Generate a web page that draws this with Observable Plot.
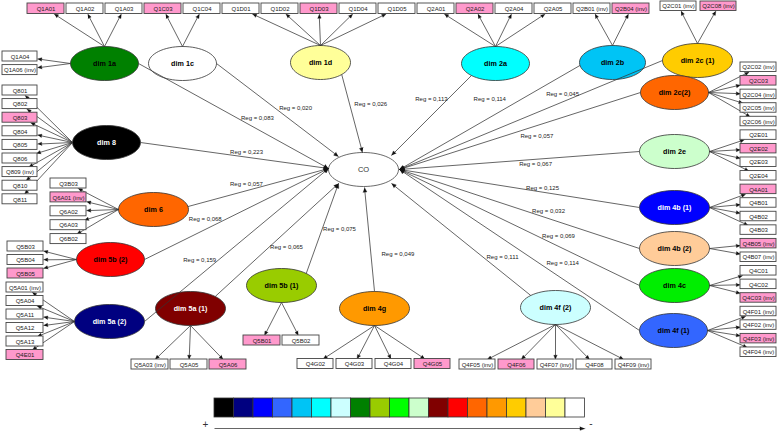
<!DOCTYPE html>
<html><head><meta charset="utf-8">
<script src="https://cdn.jsdelivr.net/npm/d3@7"></script>
<script src="https://cdn.jsdelivr.net/npm/@observablehq/plot@0.6"></script>
<style>body{margin:0;background:#fff}</style>
</head><body><div id="chart"></div>
<script>
// ---------------- DATA ----------------
const outcome = "CO";
const factors = ["dim 1a","dim 1c","dim 1d","dim 2a","dim 2b","dim 2c (1)","dim 2c(2)","dim 2e","dim 4b (1)","dim 4b (2)","dim 4c","dim 4f (1)","dim 4f (2)","dim 4g","dim 5b (1)","dim 5a (1)","dim 5a (2)","dim 5b (2)","dim 6","dim 8"];
const regValues = ["0,083","0,020","0,026","0,113","0,114","0,045","0,057","0,067","0,125","0,032","0,069","0,114","0,111","0,049","0,075","0,065","0,159","0,068","0,057","0,223"];
const factorColors = ["#008000","#ffffff","#ffff99","#00ffff","#00c4f5","#ffcc00","#ff6600","#ccffcc","#0000ff","#ffcc99","#00ee00","#3366ff","#ccffff","#ff9900","#99cc00","#800000","#000080","#ff0000","#ff6600","#000000"];
const indicators = [
  ["Q1A01","Q1A02","Q1A03","Q1A04","Q1A06 (inv)"],
  ["Q1C03","Q1C04"],
  ["Q1D01","Q1D02","Q1D03","Q1D04","Q1D05"],
  ["Q2A01","Q2A02","Q2A04","Q2A05"],
  ["Q2B01 (inv)","Q2B04 (inv)"],
  ["Q2C01 (inv)","Q2C08 (inv)"],
  ["Q2C02 (inv)","Q2C03","Q2C04 (inv)","Q2C05 (inv)","Q2C06 (inv)"],
  ["Q2E01","Q2E02","Q2E03","Q2E04"],
  ["Q4A01","Q4B01","Q4B02","Q4B03"],
  ["Q4B05 (inv)","Q4B07 (inv)"],
  ["Q4C01","Q4C02","Q4C03 (inv)"],
  ["Q4F01 (inv)","Q4F02 (inv)","Q4F03 (inv)","Q4F04 (inv)"],
  ["Q4F05 (inv)","Q4F06","Q4F07 (inv)","Q4F08","Q4F09 (inv)"],
  ["Q4G02","Q4G03","Q4G04","Q4G05"],
  ["Q5B01","Q5B02"],
  ["Q5A03 (inv)","Q5A05","Q5A06"],
  ["Q5A01 (inv)","Q5A04","Q5A11","Q5A12","Q5A13","Q4E01"],
  ["Q5B03","Q5B04","Q5B05"],
  ["Q3B03","Q6A01 (inv)","Q6A02","Q6A03","Q6B02"],
  ["Q801","Q802","Q803","Q804","Q805","Q806","Q809 (inv)","Q810","Q811"]
];
const highlighted = ["Q1A01","Q1C03","Q1D03","Q2A02","Q2B04 (inv)","Q2C08 (inv)","Q2C03","Q2E02","Q4A01","Q4B05 (inv)","Q4C03 (inv)","Q4F03 (inv)","Q4F06","Q4G05","Q5B01","Q5A06","Q4E01","Q5B05","Q6A01 (inv)","Q803"];
const legendColors = ["#000000","#000080","#0000ff","#3366ff","#00c4f5","#00ffff","#ccffff","#008000","#99cc00","#00ff00","#ccffcc","#800000","#ff0000","#ff6600","#ff9900","#ffcc00","#ffcc99","#ffff99","#ffffff"];
const legendEnds = ["+","-"];

// ---------------- LAYOUT (diagram geometry) ----------------
const RY = 17;
const co = {cx:363, cy:169, rx:35};
const ports = {W:[328,168],E:[399,169],NW:[338,156],N:[362,152],NE:[391,155],SW:[338,183],S:[364,187],SE:[391,183]};
const rows = {
  T:{y:3,h:10.5,x0:27,step:39,w:37},
  T2:{y:1,h:9.5,x0:660,step:40,w:36},
  B5a1:{y:359,h:10,x0:131,step:39,w:37},
  B5b1:{y:335,h:10,x0:243,step:39,w:37},
  B4g:{y:358.5,h:10,x0:297,step:39,w:36},
  B4f2:{y:359,h:10,x0:459,step:39,w:36}
};
const cols = {
  R:{x:740,w:36,y0:62,step:13.57,h:9.5},
  L1a:{x:2,w:35,y0:51,step:13.6,h:10},
  L8:{x:2,w:35,y0:85,step:13.6,h:10},
  L6:{x:50,w:36,y0:178,step:13.9,h:10},
  L5b2:{x:7,w:36,y0:241,step:13.5,h:10},
  L5a2:{x:6,w:37,y0:282,step:13.5,h:10}
};
const nodeLayout = {
 "dim 1a":{cx:104,cy:63,rx:34,from:0,port:"W",lab:[0.626,0,-11],groups:[["top","T",0,3],["left","L1a",0,2]]},
 "dim 1c":{cx:182,cy:63,rx:34,from:0,port:"NW",lab:[0.648,0,-16],groups:[["top","T",3,2]]},
 "dim 1d":{cx:320,cy:62,rx:30,from:45,port:"N",lab:[0.385,21,0],groups:[["top","T",5,5]]},
 "dim 2a":{cx:495,cy:63,rx:34,from:135,port:"NE",lab:[0.3,-16,0],groups:[["top","T",10,4]]},
 "dim 2b":{cx:612,cy:62,rx:33,from:170,port:"E",lab:[0.5,0,-18],groups:[["top","T",14,2]]},
 "dim 2c (1)":{cx:697,cy:60,rx:35,from:180,port:"E",lab:[0.38,0,-8],groups:[["top","T2",0,2]]},
 "dim 2c(2)":{cx:674,cy:92,rx:34,from:180,port:"E",lab:[0.43,0,10],groups:[["right","R",0,5]]},
 "dim 2e":{cx:674,cy:151,rx:35,from:180,port:"E",lab:[0.433,0,5],groups:[["right","R",5,4]]},
 "dim 4b (1)":{cx:674,cy:207,rx:35,from:180,port:"E",lab:[0.404,0,-4.5],groups:[["right","R",9,4]]},
 "dim 4b (2)":{cx:674,cy:248,rx:35,from:180,port:"E",lab:[0.379,0,-7],groups:[["right","R",13,2]]},
 "dim 4c":{cx:674,cy:285,rx:35,from:180,port:"E",lab:[0.3375,0,-10],groups:[["right","R",15,3]]},
 "dim 4f (1)":{cx:673,cy:330,rx:34,from:180,port:"E",lab:[0.32,0,-15.5],groups:[["right","R",18,4]]},
 "dim 4f (2)":{cx:555,cy:307,rx:35,from:225,port:"SE",lab:[0.203,0,-16],groups:[["bottom","B4f2",0,5]]},
 "dim 4g":{cx:374,cy:308,rx:35,from:270,port:"S",lab:[0.356,27,0],groups:[["bottom","B4g",0,4]]},
 "dim 5b (1)":{cx:281,cy:285,rx:35,from:315,port:"SW",lab:[0.489,17.5,0],groups:[["bottom","B5b1",0,2]]},
 "dim 5a (1)":{cx:190,cy:308,rx:35,from:315,port:"SW",lab:[0.578,0,16],groups:[["bottom","B5a1",0,3]]},
 "dim 5a (2)":{cx:109,cy:321,rx:35,from:0,port:"W",lab:[0.3,0,-16],groups:[["left","L5a2",0,6]]},
 "dim 5b (2)":{cx:110,cy:259,rx:34,from:0,port:"W",lab:[0.33,0,-10],groups:[["left","L5b2",0,3]]},
 "dim 6":{cx:153,cy:209,rx:35,from:350,port:"W",lab:[0.416,0,-7],groups:[["left","L6",0,5]]},
 "dim 8":{cx:106,cy:142,rx:34,from:0,port:"W",lab:[0.564,0,-5],groups:[["left","L8",0,9]]}
};
const legendBox = {x0:214, w:19.5, y1:398, y2:417, lineY:428};

// ---------------- GEOMETRY ----------------
function ellipseSymbol(rx, ry) {
  const k = 0.5522847498;
  return {draw(c) {
    c.moveTo(rx,0);
    c.bezierCurveTo(rx,k*ry,k*rx,ry,0,ry);
    c.bezierCurveTo(-k*rx,ry,-rx,k*ry,-rx,0);
    c.bezierCurveTo(-rx,-k*ry,-k*rx,-ry,0,-ry);
    c.bezierCurveTo(k*rx,-ry,rx,-k*ry,rx,0);
    c.closePath();
  }};
}
const links = [], heads = [], boxes = [], regLabels = [];
let hid = 0;
function addArrow(a, b, len = 4.6, half = 1.9) {
  const dx = b[0]-a[0], dy = b[1]-a[1], d = Math.hypot(dx,dy), ux = dx/d, uy = dy/d;
  const bx = b[0]-ux*len, by = b[1]-uy*len;
  links.push({x1:a[0],y1:a[1],x2:bx,y2:by});
  const id = hid++;
  heads.push({id,x:b[0],y:b[1]},{id,x:bx-uy*half,y:by+ux*half},{id,x:bx+uy*half,y:by-ux*half});
}
const nodes = factors.map((name,i) => {
  const L = nodeLayout[name];
  const dark = d3.lab(factorColors[i]).l < 36;
  return {name, color:factorColors[i], text: dark ? "#ffffff" : "#000000", ...L};
});
nodes.forEach((n,i) => {
  // structural path to CO
  const th = n.from*Math.PI/180;
  const S = [n.cx + n.rx*Math.cos(th), n.cy + RY*Math.sin(th)];
  const P = ports[n.port];
  addArrow(S, P);
  const [t, ox, oy] = n.lab;
  regLabels.push({x:S[0]+t*(P[0]-S[0])+ox, y:S[1]+t*(P[1]-S[1])+oy, text:"Reg = " + regValues[i]});
  // measurement arrows
  let k = 0;
  for (const [side, seq, start, cnt] of n.groups) {
    const src = side==="top" ? [n.cx, n.cy-RY] : side==="bottom" ? [n.cx, n.cy+RY] : side==="left" ? [n.cx-n.rx, n.cy] : [n.cx+n.rx, n.cy];
    for (let j = 0; j < cnt; j++, k++) {
      const label = indicators[i][k];
      let b;
      if (rows[seq]) { const r = rows[seq]; const x1 = r.x0+(start+j)*r.step; b = {x1, x2:x1+r.w, y1:r.y, y2:r.y+r.h}; }
      else { const c = cols[seq]; const y1 = c.y0+(start+j)*c.step; b = {x1:c.x, x2:c.x+c.w, y1, y2:y1+c.h}; }
      boxes.push({...b, label, fill: highlighted.includes(label) ? "#ff99cc" : "#ffffff"});
      const bx = (b.x1+b.x2)/2, by = (b.y1+b.y2)/2, hw = (b.x2-b.x1)/2, hh = (b.y2-b.y1)/2;
      const dx = bx-src[0], dy = by-src[1];
      const s = Math.min(dx ? hw/Math.abs(dx) : Infinity, dy ? hh/Math.abs(dy) : Infinity);
      addArrow(src, [bx-s*dx, by-s*dy], 4.2, 1.7);
    }
  }
});
const legendCells = legendColors.map((c,i) => ({x1:legendBox.x0+i*legendBox.w, x2:legendBox.x0+(i+1)*legendBox.w, y1:legendBox.y1, y2:legendBox.y2, fill:c}));
const lx1 = legendBox.x0, lx2 = legendBox.x0 + legendColors.length*legendBox.w;
addArrow([lx1, legendBox.lineY], [lx2, legendBox.lineY], 5, 1.8);
const legendTexts = [{x:lx1-9, y:legendBox.lineY-4, text:legendEnds[0]},{x:lx2+6, y:legendBox.lineY-5, text:legendEnds[1]}];

const FONT = "Liberation Sans, Arial, sans-serif";
const chart = Plot.plot({
  width: 778, height: 432, margin: 0,
  x: {domain:[0,778], range:[0,778], axis:null},
  y: {domain:[0,432], range:[0,432], axis:null},
  style: {background:"#ffffff", fontFamily: FONT},
  marks: [
    ...nodes.map(n => Plot.dot([n], {x:"cx", y:"cy", symbol: ellipseSymbol(n.rx, RY), fill:"color", stroke:"#333", strokeWidth:0.8})),
    Plot.dot([co], {x:"cx", y:"cy", symbol: ellipseSymbol(co.rx, RY), fill:"#fff", stroke:"#444", strokeWidth:0.8}),
    Plot.link(links, {x1:"x1", y1:"y1", x2:"x2", y2:"y2", stroke:"#333", strokeWidth:0.75}),
    Plot.line(heads, {x:"x", y:"y", z:"id", fill:"#111", stroke:"#111", strokeWidth:0.4}),
    Plot.rect(boxes, {x1:"x1", x2:"x2", y1:"y1", y2:"y2", fill:"fill", stroke:"#444", strokeWidth:0.9}),
    Plot.text(boxes, {x:d => (d.x1+d.x2)/2, y:d => (d.y1+d.y2)/2 + 0.3, text:"label", fontSize:6, fill:"#222"}),
    Plot.text(nodes, {x:"cx", y:"cy", text:"name", fontSize:7.2, fontWeight:"bold", fill:"text"}),
    Plot.text([co], {x:"cx", y:"cy", text:() => outcome, fontSize:7.5, fill:"#333"}),
    Plot.text(regLabels, {x:"x", y:"y", text:"text", fontSize:6, fill:"#222"}),
    Plot.rect(legendCells, {x1:"x1", x2:"x2", y1:"y1", y2:"y2", fill:"fill", stroke:"#333", strokeWidth:0.8}),
    Plot.text(legendTexts, {x:"x", y:"y", text:"text", fontSize:10, fill:"#333"})
  ]
});
document.getElementById("chart").appendChild(chart);
</script>
</body></html>
